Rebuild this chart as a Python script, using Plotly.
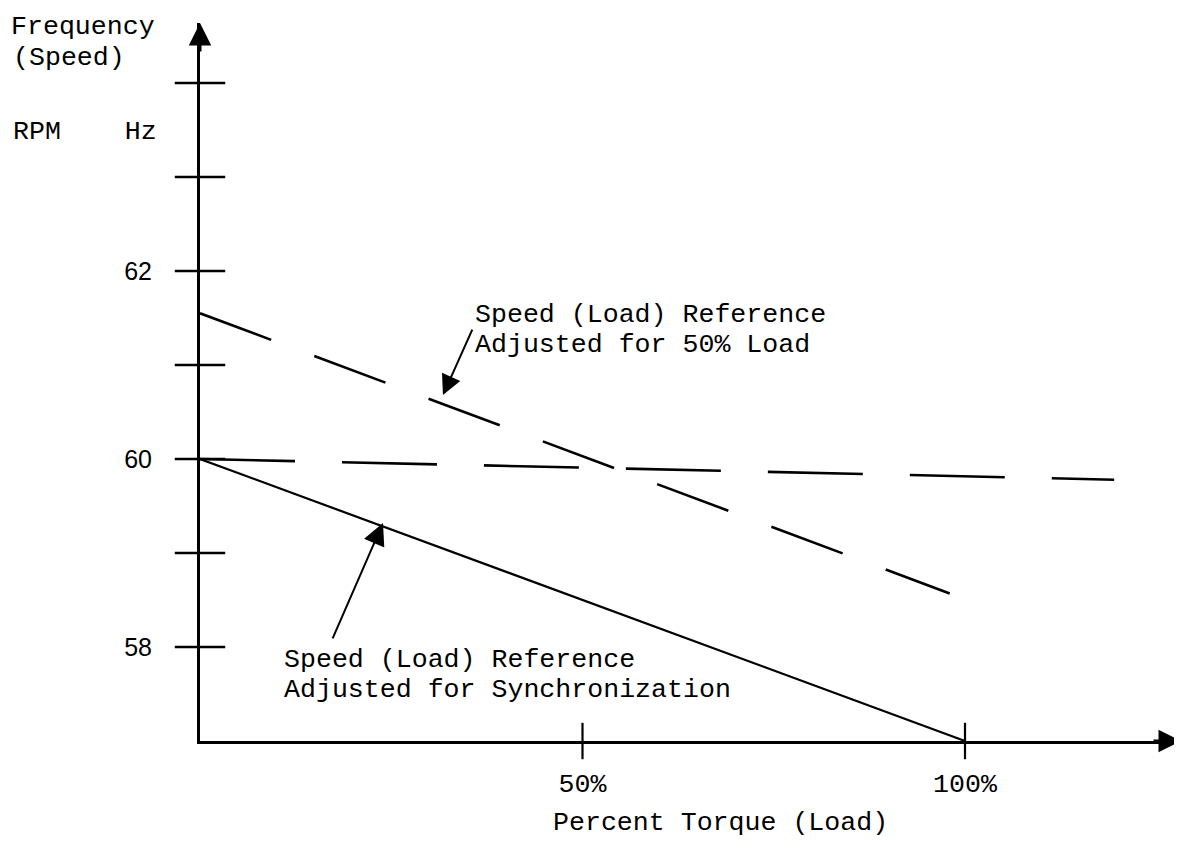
import plotly.graph_objects as go

# ---- data ----
sync_x = [0, 100]          # % torque
sync_y = [60.0, 57.0]      # Hz  (reference adjusted for synchronization)

half_x = [0, 98]
half_y = [61.55, 58.57]    # reference adjusted for 50% load

iso_x = [0, 119.5]
iso_y = [60.0, 59.78]      # near-flat dashed line

y_tick_vals = [58, 59, 60, 61, 62, 63, 64]
y_label_vals = [58, 60, 62]
y_label_text = ["58", "60", "62"]
x_tick_vals = [50, 100]
x_tick_text = ["50%", "100%"]

# ---- geometry helpers (layout only) ----
OFF = 8                      # page body margin
W, H = 1182 - OFF, 849 - OFF
L, R, T = 200 - OFF, 0, 23 - OFF
B = H - (741 - OFF)
PW, PH = W - L - R, H - T - B
X_PER = 7.65   # px per percent
Y_PER = 94.0   # px per Hz
x_range = [0, PW / X_PER]
y_range = [57, 57 + PH / Y_PER]

def px(xp):
    return (xp - OFF - L) / PW

def py(yp):
    return (H - B - (yp - OFF)) / PH

MONO = "Liberation Mono"
SANS = "Liberation Sans"
FS = 26.6

fig = go.Figure()

fig.add_trace(go.Scatter(x=sync_x, y=sync_y, mode="lines",
                         line=dict(color="black", width=2.2), showlegend=False))
fig.add_trace(go.Scatter(x=half_x, y=half_y, mode="lines",
                         line=dict(color="black", width=2.6, dash="76px,46px"), showlegend=False))
fig.add_trace(go.Scatter(x=iso_x, y=iso_y, mode="lines",
                         line=dict(color="black", width=2.6, dash="95px,47px"), showlegend=False))

# tick marks crossing the axes
fig.add_trace(go.Scatter(x=[0] * len(y_tick_vals), y=y_tick_vals, mode="markers",
                         marker=dict(symbol="line-ew", size=36,
                                     line=dict(color="black", width=2.5)),
                         cliponaxis=False, showlegend=False, hoverinfo="skip"))
fig.add_trace(go.Scatter(x=x_tick_vals, y=[57] * len(x_tick_vals), mode="markers",
                         marker=dict(symbol="line-ns", size=26,
                                     line=dict(color="black", width=2.2)),
                         cliponaxis=False, showlegend=False, hoverinfo="skip"))

annotations = []

def text(s, x, y, xanchor="left"):
    annotations.append(dict(text=s, x=px(x), y=py(y), xref="paper", yref="paper",
                            xanchor=xanchor, yanchor="middle", showarrow=False,
                            borderpad=0,
                            font=dict(family=MONO, size=FS, color="black")))

text("Frequency", 10, 27)
text("(Speed)", 12, 58)
text("RPM    Hz", 12, 132)
text("Speed (Load) Reference", 474, 315)
text("Adjusted for 50% Load", 474, 345)
text("Speed (Load) Reference", 283, 660)
text("Adjusted for Synchronization", 283, 690)
text("Percent Torque (Load)", 720, 823, xanchor="center")

# pointer arrows
annotations.append(dict(x=31.76, y=60.68, xref="x", yref="y", ax=30, ay=-67,
                        showarrow=True, arrowhead=2, arrowsize=2.0, arrowwidth=2,
                        arrowcolor="black", text=""))
annotations.append(dict(x=23.92, y=59.32, xref="x", yref="y", ax=-51, ay=117,
                        showarrow=True, arrowhead=2, arrowsize=2.2, arrowwidth=2,
                        arrowcolor="black", text=""))
# axis arrowheads
annotations.append(dict(x=0, y=1, xref="x", yref="paper", ax=0, ay=30,
                        showarrow=True, arrowhead=2, arrowsize=1.5, arrowwidth=3,
                        arrowcolor="black", text=""))
annotations.append(dict(x=1, y=57, xref="paper", yref="y", ax=-30, ay=0,
                        showarrow=True, arrowhead=2, arrowsize=1.5, arrowwidth=3,
                        arrowcolor="black", text=""))

fig.update_layout(
    width=W, height=H,
    margin=dict(l=L, r=R, t=T, b=B, pad=0),
    paper_bgcolor="white", plot_bgcolor="white",
    showlegend=False,
    annotations=annotations,
    xaxis=dict(range=x_range, showgrid=False, zeroline=False,
               showline=True, linecolor="black", linewidth=3,
               tickvals=x_tick_vals, ticktext=x_tick_text, ticks="",
               tickfont=dict(family=MONO, size=FS, color="black"),
               ticklabelstandoff=16, fixedrange=True),
    yaxis=dict(range=y_range, showgrid=False, zeroline=False,
               showline=True, linecolor="black", linewidth=3,
               tickvals=y_label_vals, ticktext=y_label_text, ticks="",
               tickfont=dict(family=SANS, size=25, color="black"),
               ticklabelstandoff=40, fixedrange=True),
)

fig.write_html("out.html")
